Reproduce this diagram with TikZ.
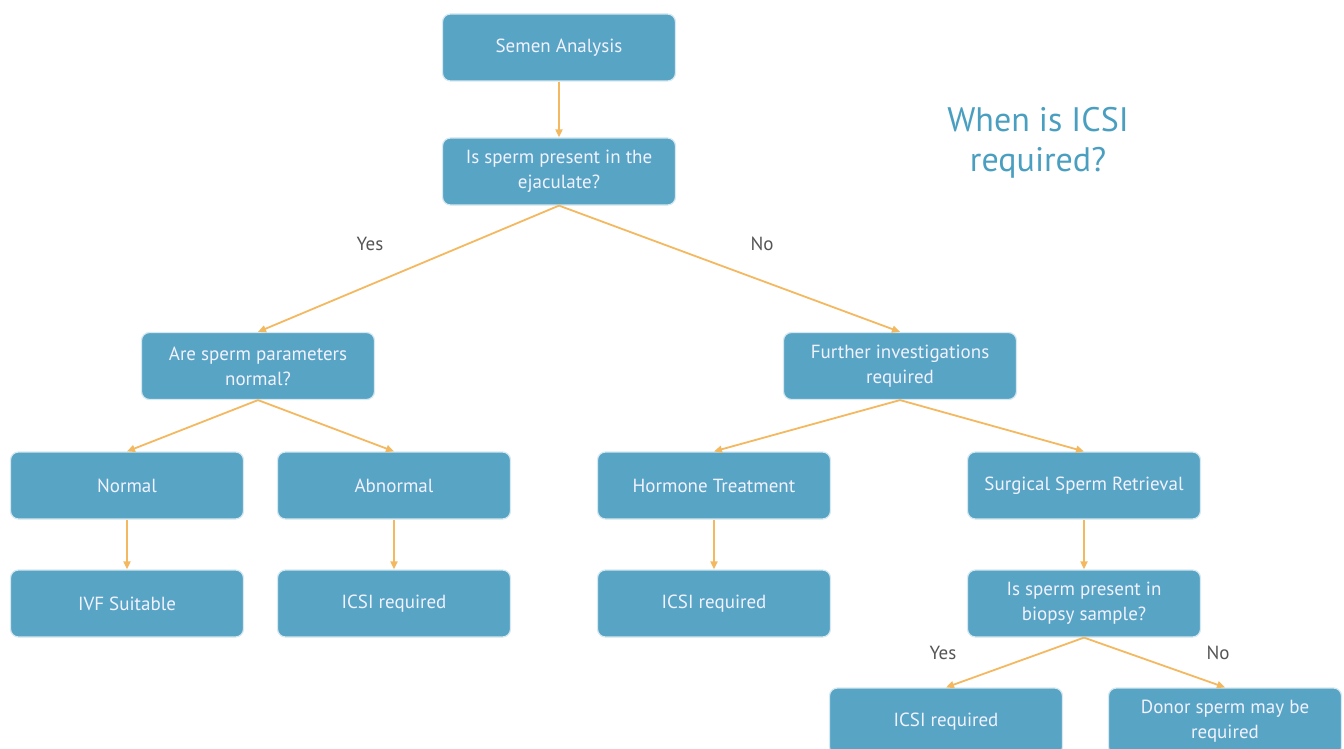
\documentclass[tikz,border=0pt]{standalone}
\usepackage{fontspec}
\setmainfont{PT Sans}
\usetikzlibrary{arrows.meta}
\definecolor{boxblue}{HTML}{58A4C5}
\definecolor{boxline}{HTML}{D6E8F0}
\definecolor{arr}{HTML}{F3B860}
\definecolor{ttl}{HTML}{4A9FC0}
\definecolor{lbl}{HTML}{555555}
\begin{document}
\begin{tikzpicture}[x=1pt,y=-1pt,
  box/.style={draw=boxline,line width=1.2pt,fill=boxblue,rounded corners=8pt,
    minimum width=233pt,minimum height=67pt,inner sep=0pt,align=center,
    text=white!95!blue,font=\fontsize{19}{25}\selectfont},
  conn/.style={draw=arr,line width=1.8pt,-{Triangle[length=8pt,width=7pt]}},
  lab/.style={text=lbl,font=\fontsize{19}{22}\selectfont}]
\useasboundingbox (0,0) rectangle (1344,749);
\clip (0,0) rectangle (1344,749);
\node[box] (sa) at (559,47.5) {Semen Analysis};
\node[box] (sp) at (559,171.5) {Is sperm present in the\\ejaculate?};
\node[box] (pn) at (258,366) {Are sperm parameters\\normal?};
\node[box] (fi) at (900,366) {Further investigations\\required};
\node[box] (no) at (127,485.5) {Normal};
\node[box] (ab) at (394,485.5) {Abnormal};
\node[box] (ht) at (714,485.5) {Hormone Treatment};
\node[box] (ss) at (1084,485.5) {Surgical Sperm Retrieval};
\node[box] (iv) at (127,603.5) {IVF Suitable};
\node[box] (ic1) at (394,603.5) {ICSI required};
\node[box] (ic2) at (714,603.5) {ICSI required};
\node[box] (bs) at (1084,603.5) {Is sperm present in\\biopsy sample?};
\node[box] (ic3) at (946,721.5) {ICSI required};
\node[box] (ds) at (1225,721.5) {Donor sperm may be\\required};
\node[align=center,text=ttl,font=\fontsize{34}{40}\selectfont] (title) at (1038,143) {When is ICSI\\required?};
\node[lab] (y1) at (370,244) {Yes};
\node[lab] (n1) at (762,244) {No};
\node[lab] (y2) at (943,653) {Yes};
\node[lab] (n2) at (1218,653) {No};
\draw[conn] (sa.south) -- (sp.north);
\draw[conn] (sp.south) -- (pn.north);
\draw[conn] (sp.south) -- (fi.north);
\draw[conn] (pn.south) -- (no.north);
\draw[conn] (pn.south) -- (ab.north);
\draw[conn] (fi.south) -- (ht.north);
\draw[conn] (fi.south) -- (ss.north);
\draw[conn] (no.south) -- (iv.north);
\draw[conn] (ab.south) -- (ic1.north);
\draw[conn] (ht.south) -- (ic2.north);
\draw[conn] (ss.south) -- (bs.north);
\draw[conn] (bs.south) -- (ic3.north);
\draw[conn] (bs.south) -- (ds.north);
\end{tikzpicture}
\end{document}
